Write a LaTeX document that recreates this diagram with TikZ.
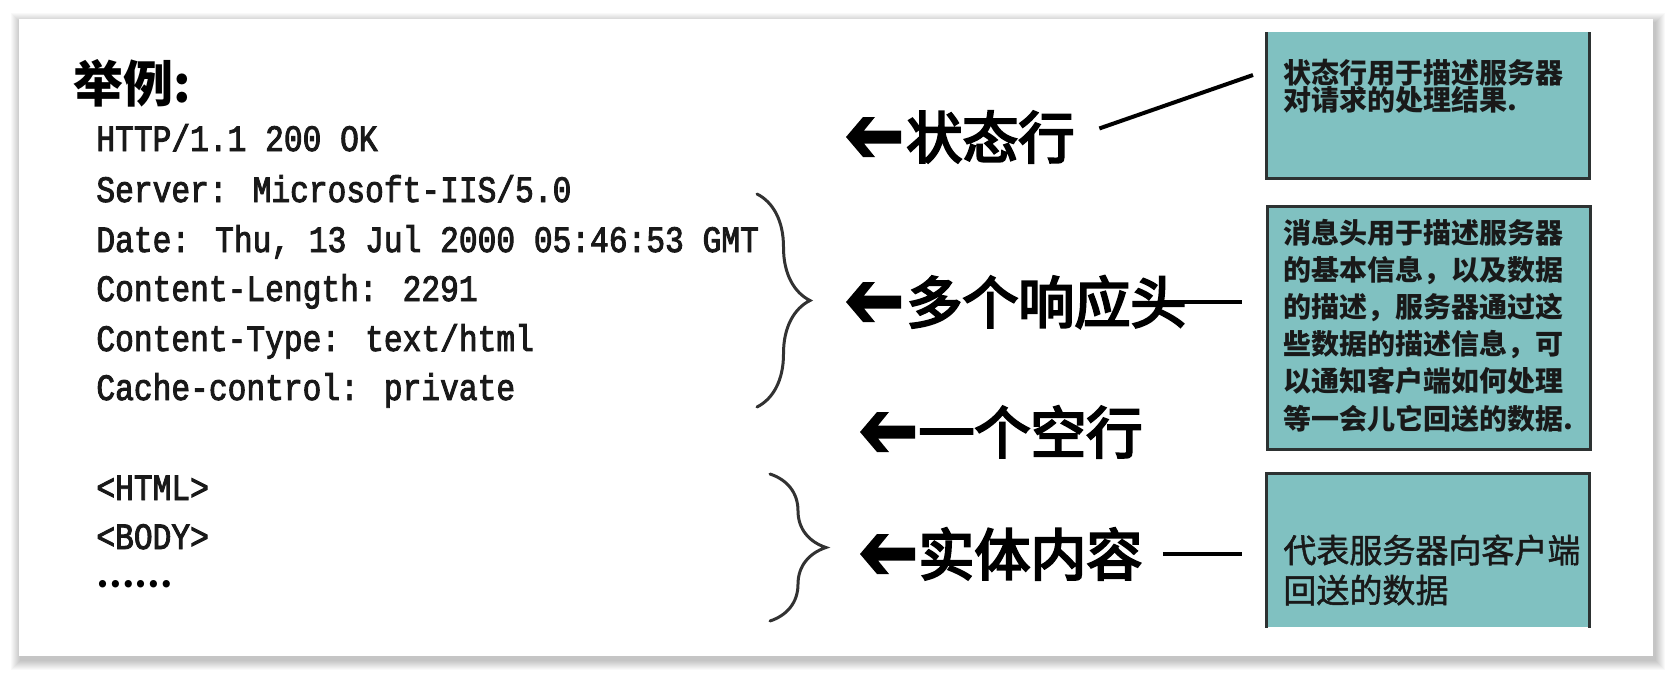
\documentclass[tikz,border=0pt]{standalone}
\usepackage{fontspec}
\usetikzlibrary{decorations.pathreplacing,calc}
\newfontfamily\cjk{Noto Sans CJK SC}
\newfontfamily\cjkm{Noto Sans CJK SC}[FakeBold=4]
\newfontfamily\cjks{Noto Sans CJK SC}[FakeBold=1.5]
\newfontfamily\mono{Liberation Mono}[FakeStretch=0.84,FakeBold=2.4]
\definecolor{boxfill}{RGB}{128,193,193}
\definecolor{boxline}{RGB}{45,50,50}
\definecolor{bracecol}{RGB}{50,50,50}
\definecolor{txt}{RGB}{25,25,25}
\begin{document}
\begin{tikzpicture}[x=0.5pt,y=-0.5pt,
  code/.style={anchor=base west, inner sep=0, font=\mono\fontsize{18.6}{18.6}\selectfont, text=txt},
  lab/.style={anchor=west, inner sep=0, font=\cjkm\fontsize{28}{28}\selectfont, text=black},
  conn/.style={line width=2pt, black},
  curly/.style={decorate, decoration={brace, amplitude=#1}, line width=1.5pt, bracecol, line cap=round},
  box/.style={fill=boxfill, inner sep=0, anchor=north west, minimum width=161.5pt},
  boxborder/.style={line width=1.5pt, boxline},
  btext/.style={anchor=west, inner sep=0, align=left, text=txt},
  larrow/.pic={\fill[black] (0,0) -- (17,-20) -- (29,-20) -- (18,-6.5) -- (55,-6.5) -- (55,6.5) -- (18,6.5) -- (29,20) -- (17,20) -- cycle;}
]
\useasboundingbox (0,0) rectangle (1672,676);
\fill[white] (0,0) rectangle (1672,676);
% card shadow
\foreach \i in {1,...,10}
  \fill[black, opacity=0.025] (19-\i+2,19-\i+4) rectangle (1653+\i+2,656+\i+4);
\fill[white] (19,19) rectangle (1653,656);

% title
\node[anchor=west, inner sep=0, font=\cjk\bfseries\fontsize{25}{25}\selectfont] (title) at (73,83) {举例:};

% response text
\node[code] (l1) at (96,151) {HTTP/1.1 200 OK};
\node[code] (l2) at (96,202) {Server: Microsoft-IIS/5.0};
\node[code] (l3) at (96,252) {Date: Thu, 13 Jul 2000 05:46:53 GMT};
\node[code] (l4) at (96,301) {Content-Length: 2291};
\node[code] (l5) at (96,351) {Content-Type: text/html};
\node[code] (l6) at (96,400) {Cache-control: private};
\node[code] (l7) at (96,500) {<HTML>};
\node[code] (l8) at (96,549) {<BODY>};
\node[anchor=west, inner sep=0, font=\cjk\bfseries\fontsize{17}{17}\selectfont] (l9) at (96,584) {……};

% braces
\coordinate (b1a) at (757,194);
\coordinate (b1b) at (757,407);
\coordinate (b2a) at (770,474);
\coordinate (b2b) at (770,621);
\draw[curly=26.5pt] (b1a) -- (b1b);
\draw[curly=28pt] (b2a) -- (b2b);

% labels
\node[lab] (lab1) at (906,137) {状态行};
\node[lab] (lab2) at (906,302) {多个响应头};
\node[lab] (lab3) at (918,432) {一个空行};
\node[lab] (lab4) at (918,554) {实体内容};
\pic at ($(lab1.west)+(-60,0)$) {larrow};
\pic at ($(lab2.west)+(-60,0)$) {larrow};
\pic at ($(lab3.west)+(-58,0)$) {larrow};
\pic at ($(lab4.west)+(-58,0)$) {larrow};

% boxes
\node[box, minimum height=73pt] (box1) at (1266,32) {};
\draw[boxborder] (box1.north west) -- (box1.south west) -- (box1.south east) -- (box1.north east);
\node[box, draw=boxline, line width=1.5pt, minimum height=121.5pt] (box2) at (1266,205) {};
\node[box, minimum height=77pt] (box3) at (1266,473) {};
\draw[boxborder] (box3.south west) -- (box3.north west) -- (box3.north east) -- (box3.south east);

\node[btext, font=\cjk\bfseries\fontsize{14}{13.5}\selectfont] (bt1) at (1283,86.5)
  {状态行用于描述服务器\\对请求的处理结果.};
\node[btext, font=\cjk\bfseries\fontsize{14}{18.6}\selectfont] (bt2) at (1283,325.5)
  {消息头用于描述服务器\\的基本信息，以及数据\\的描述，服务器通过这\\些数据的描述信息，可\\以通知客户端如何处理\\等一会儿它回送的数据.};
\node[btext, font=\cjks\fontsize{16.5}{20}\selectfont] (bt3) at (1283,570)
  {代表服务器向客户端\\回送的数据};

% connectors
\coordinate (t1) at (1253,75);
\coordinate (t2) at (1242,302);
\coordinate (t3) at (1242,554);
\draw[conn, shorten <=13pt] (lab1.east) -- (t1);
\draw[conn, shorten <=-13.5pt] (lab2.east) -- (t2);
\draw[conn, shorten <=10pt] (lab4.east) -- (t3);
\end{tikzpicture}
\end{document}
